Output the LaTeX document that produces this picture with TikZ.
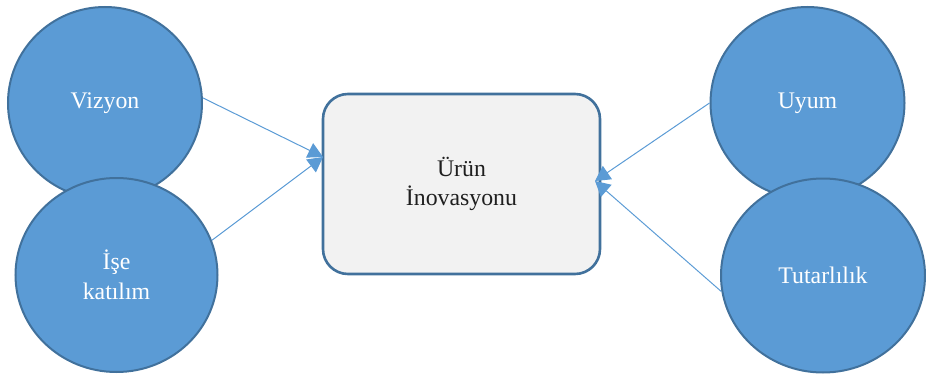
\documentclass[tikz,border=0pt]{standalone}
\usepackage{fontspec}
\setmainfont{Liberation Serif}
\usetikzlibrary{shapes.geometric,arrows.meta}
\definecolor{bubble}{HTML}{5B9BD5}
\definecolor{rim}{HTML}{41719C}
\definecolor{panel}{HTML}{F2F2F2}
\begin{document}
\begin{tikzpicture}[x=0.5pt,y=-0.5pt,
  bubble/.style={ellipse, draw=rim, line width=1pt, fill=bubble, text=white,
    inner sep=0pt, align=center, font=\fontsize{11.9}{15}\selectfont},
  core/.style={rectangle, rounded corners=12.5pt, draw=rim, line width=1.3pt,
    fill=panel, minimum width=138.5pt, minimum height=90pt, align=center,
    text=black!88, font=\fontsize{11.9}{14.5}\selectfont},
  link/.style={draw=bubble, line width=0.5pt, -{Triangle[length=7.5pt,width=8pt]}}]
  \useasboundingbox (0,0) rectangle (926,374);

  % left pair of drivers
  \node[bubble, minimum width=97pt, minimum height=96pt] (viz) at (105,103) {Vizyon};
  \node[bubble, minimum width=101pt, minimum height=97pt] (ise) at (116.5,275) {İşe\\katılım};

  % right pair of drivers
  \node[bubble, minimum width=97pt, minimum height=96pt] (uyum) at (807.5,103) {Uyum};
  \node[bubble, minimum width=102pt, minimum height=97pt] (tut) at (823,275.5) {Tutarlılık};

  % central outcome
  \node[core] (inno) at (461.5,184) {Ürün\\İnovasyonu};

  % arrow targets on the outcome box
  \coordinate (inL) at (323,157);
  \coordinate (inR) at (595,181);

  \draw[link] (viz.3.5) -- (inL);
  \draw[link] (ise.20) -- (inL);
  \draw[link] (uyum.180) -- (inR);
  \draw[link] (tut.189) -- (inR);
\end{tikzpicture}
\end{document}
